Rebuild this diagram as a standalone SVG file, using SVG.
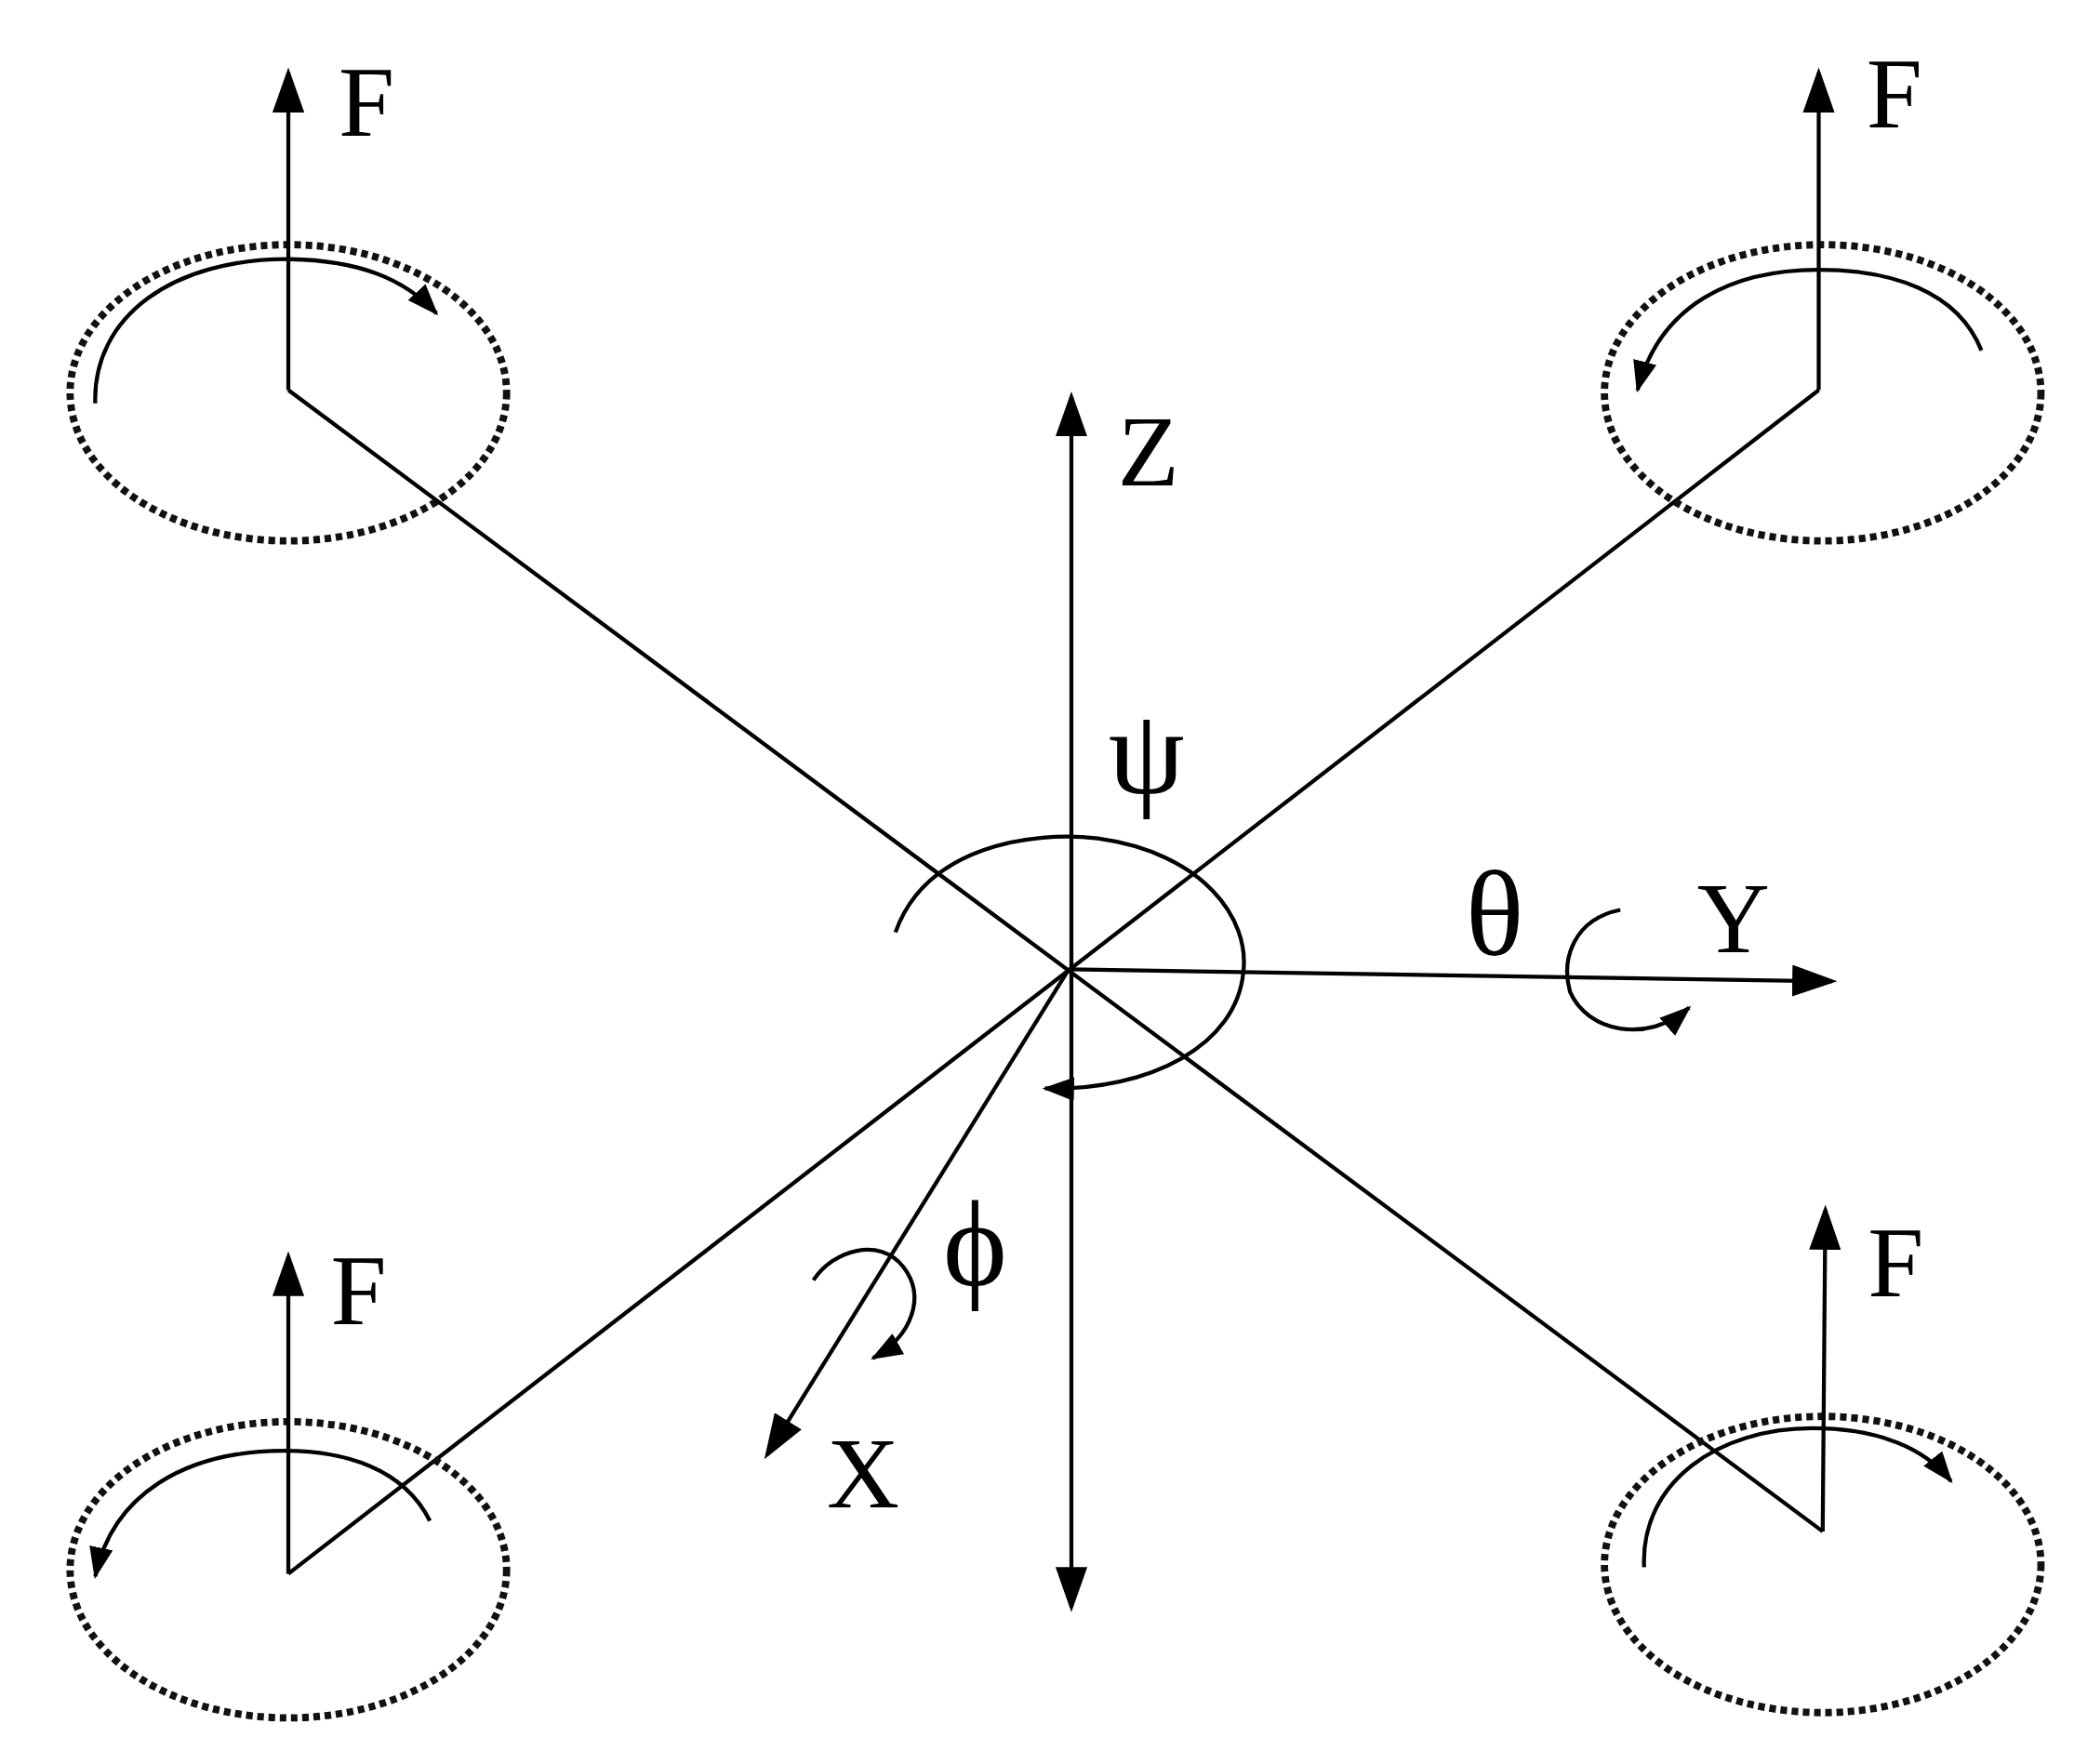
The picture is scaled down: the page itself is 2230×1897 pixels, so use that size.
<svg xmlns="http://www.w3.org/2000/svg" width="2230" height="1897" viewBox="0 0 2230 1897">
<style>
.l{stroke:#000;stroke-width:3;fill:none}
.d{stroke:#111;stroke-width:5.5;fill:none;stroke-dasharray:5 3.5}
.t{font-family:"Liberation Serif",serif;font-size:76px;fill:#000}
.g{font-family:"Liberation Serif",serif;font-size:92px;fill:#000}
</style>
<defs>
<marker id="a" markerUnits="userSpaceOnUse" markerWidth="34" markerHeight="24" refX="30" refY="12" orient="auto"><path d="M0,0 L34,12 L0,24 Z" fill="#000"/></marker>
<marker id="s" markerUnits="userSpaceOnUse" markerWidth="24" markerHeight="18" refX="22" refY="9" orient="auto"><path d="M0,0 L24,9 L0,18 Z" fill="#000"/></marker>
</defs>
<rect width="2230" height="1897" fill="#fff"/>
<g transform="scale(1.4222)">
<g id="connectors">
<line class="l" x1="218" y1="295" x2="1378" y2="1158"/>
<line class="l" x1="218" y1="1190" x2="1375" y2="295"/>
<line class="l" x1="810" y1="733" x2="810" y2="300" marker-end="url(#a)"/>
<line class="l" x1="810" y1="733" x2="810" y2="1215" marker-end="url(#a)"/>
<line class="l" x1="808" y1="733" x2="1385" y2="742" marker-end="url(#a)"/>
<line class="l" x1="808" y1="733" x2="580" y2="1100" marker-end="url(#a)"/>
<path class="l" d="M677,705 C700,640 780,628 830,634 C910,645 945,695 940,735 C935,790 870,825 790,823" marker-end="url(#s)"/>
<path class="l" d="M1225,688 C1190,695 1180,725 1187,750 C1200,780 1245,790 1277,762" marker-end="url(#s)"/>
<path class="l" d="M615,968 C630,945 665,935 683,958 C700,980 690,1010 660,1027" marker-end="url(#s)"/>
</g>
<g id="rotor-tl">
<ellipse class="d" cx="218" cy="297" rx="165" ry="112"/>
<path class="l" d="M72,305 C70,240 130,195 220,196 C270,197 305,210 330,237" marker-end="url(#s)"/>
<line class="l" x1="218" y1="295" x2="218" y2="55" marker-end="url(#a)"/>
<text class="t" x="256" y="103">F</text>
</g>
<g id="rotor-tr">
<ellipse class="d" cx="1378" cy="297" rx="165" ry="112"/>
<path class="l" d="M1498,265 C1480,220 1430,204 1375,204 C1310,204 1255,230 1238,295" marker-end="url(#s)"/>
<line class="l" x1="1375" y1="295" x2="1375" y2="55" marker-end="url(#a)"/>
<text class="t" x="1411" y="96">F</text>
</g>
<g id="rotor-bl">
<ellipse class="d" cx="218" cy="1187" rx="165" ry="112"/>
<path class="l" d="M325,1150 C305,1110 260,1097 215,1097 C140,1097 85,1130 72,1192" marker-end="url(#s)"/>
<line class="l" x1="218" y1="1190" x2="218" y2="950" marker-end="url(#a)"/>
<text class="t" x="250" y="1001">F</text>
</g>
<g id="rotor-br">
<ellipse class="d" cx="1378" cy="1183" rx="165" ry="112"/>
<path class="l" d="M1243,1185 C1240,1120 1300,1080 1370,1080 C1420,1080 1455,1095 1475,1120" marker-end="url(#s)"/>
<line class="l" x1="1378" y1="1158" x2="1380" y2="915" marker-end="url(#a)"/>
<text class="t" x="1412" y="980">F</text>
</g>
<g id="labels">
<text class="t" x="845" y="367">Z</text>
<text class="t" x="1283" y="720">Y</text>
<text class="t" x="625" y="1140">X</text>
<text class="g" x="838" y="600">ψ</text>
<text class="g" x="1108" y="722">θ</text>
<text class="g" x="713" y="972">ϕ</text>
</g>
</g>
</svg>
